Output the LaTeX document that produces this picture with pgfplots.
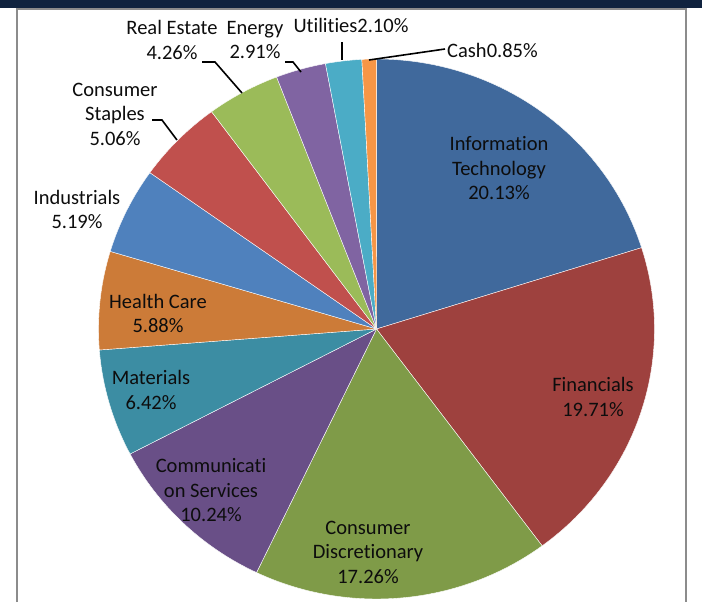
\documentclass[border=0pt]{standalone}
\usepackage{pgfplots}
\usepackage{pgfplotstable}
\pgfplotsset{compat=1.18}
\usepackage{fontspec}
\setmainfont[Ligatures=NoCommon]{Carlito}
\definecolor{cIT}{HTML}{40699C}
\definecolor{cFin}{HTML}{9E413E}
\definecolor{cCD}{HTML}{7F9B48}
\definecolor{cCom}{HTML}{694F87}
\definecolor{cMat}{HTML}{3C8DA3}
\definecolor{cHC}{HTML}{CC7B38}
\definecolor{cInd}{HTML}{4F81BD}
\definecolor{cCS}{HTML}{C0504D}
\definecolor{cRE}{HTML}{9BBB59}
\definecolor{cEn}{HTML}{8064A2}
\definecolor{cUt}{HTML}{4BACC6}
\definecolor{cCash}{HTML}{F79646}
\definecolor{frame}{HTML}{8C8C8C}
\definecolor{band}{HTML}{10233F}
\definecolor{txt}{HTML}{0D0D0D}

\pgfplotstableread[col sep=comma]{
name,value,color
Information Technology,20.13,cIT
Financials,19.71,cFin
Consumer Discretionary,17.26,cCD
Communication Services,10.24,cCom
Materials,6.42,cMat
Health Care,5.88,cHC
Industrials,5.19,cInd
Consumer Staples,5.06,cCS
Real Estate,4.26,cRE
Energy,2.91,cEn
Utilities,2.10,cUt
Cash,0.85,cCash
}\piedata

\begin{document}
\begin{tikzpicture}
\begin{axis}[
  width=702pt, height=602pt, scale only axis,
  xmin=0, xmax=702, ymin=0, ymax=602, y dir=reverse,
  hide axis, clip=false,
]
\pgfplotsextra{
  \fill[white] (axis cs:0,0) rectangle (axis cs:702,602);
  \fill[band] (axis cs:0,0) rectangle (axis cs:702,7.5);
  \draw[frame, line width=2pt] (axis cs:17,602) -- (axis cs:17,8.5) -- (axis cs:686,8.5) -- (axis cs:686,602);
  \gdef\cum{0}%
  \pgfplotstableforeachcolumnelement{value}\of\piedata\as\v{%
    \pgfplotstablegetelem{\pgfplotstablerow}{color}\of\piedata
    \xdef\slicecol{\pgfplotsretval}%
    \pgfmathsetmacro\sa{90-3.6*\cum}%
    \pgfmathsetmacro\sb{90-3.6*(\cum+\v)}%
    \fill[\slicecol, draw=white, line width=0.4pt] (axis cs:376.5,329) -- ++(\sa:278pt and 270pt)
      arc[start angle=\sa, end angle=\sb, x radius=278pt, y radius=270pt] -- cycle;
    \pgfmathsetmacro\tmp{\cum+\v}\xdef\cum{\tmp}%
  }%
  \draw[black, line width=1.6pt] (axis cs:202,62) -- (axis cs:215,62) -- (axis cs:242,93);
  \draw[black, line width=1.6pt] (axis cs:285,62) -- (axis cs:293,62) -- (axis cs:301,72);
  \draw[black, line width=1.6pt] (axis cs:342,42) -- (axis cs:342,60);
  \draw[black, line width=1.6pt] (axis cs:369,60) -- (axis cs:445,49);
  \draw[black, line width=1.6pt] (axis cs:152,120) -- (axis cs:162,120) -- (axis cs:177,140);
}
\begin{scope}[every node/.style={align=center, inner sep=0pt, text=txt, font=\fontsize{20.5}{24.5}\selectfont}]
\node at (axis cs:499,168.5) {Information\\Technology\\20.13\%};
\node at (axis cs:593,397) {Financials\\19.71\%};
\node at (axis cs:368,552) {Consumer\\Discretionary\\17.26\%};
\node at (axis cs:211,490.5) {Communicati\\on Services\\10.24\%};
\node at (axis cs:151,390) {Materials\\6.42\%};
\node at (axis cs:158,313.5) {Health Care\\5.88\%};
\node at (axis cs:77,209.5) {Industrials\\5.19\%};
\node at (axis cs:115,114) {Consumer\\Staples\\5.06\%};
\node at (axis cs:172,40) {Real Estate\\4.26\%};
\node at (axis cs:255,40) {Energy\\2.91\%};
\node at (axis cs:351,25) {Utilities2.10\%};
\node at (axis cs:492.5,50) {Cash0.85\%};
\end{scope}
\end{axis}
\end{tikzpicture}
\end{document}
